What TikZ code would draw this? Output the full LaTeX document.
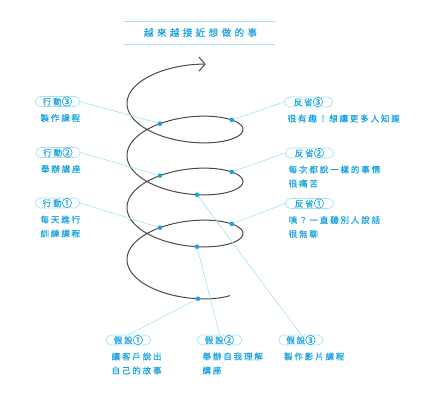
\documentclass[tikz,border=0pt]{standalone}
\usepackage{fontspec}
\newfontfamily\cjk[LetterSpace=22,FakeBold=0.5]{Noto Sans CJK TC}
\newfontfamily\cjktitle[LetterSpace=36,FakeBold=0.5]{Noto Sans CJK TC}
\newfontfamily\ringfont[FakeBold=0.5]{Noto Sans CJK TC}
\newcommand{\ringno}[1]{\raisebox{-0.6pt}{\ringfont\fontsize{10.5}{10}\selectfont #1}}
\usetikzlibrary{shapes.misc,positioning,arrows.meta}
\definecolor{ink}{HTML}{1AA3DF}
\definecolor{wire}{HTML}{A3E3F5}
\definecolor{coil}{HTML}{4A4A4A}
\tikzset{
  pill/.style={rounded rectangle, draw=wire, line width=0.7pt, text=ink,
    font=\cjk\fontsize{8.5}{10}\selectfont, minimum height=10pt,
    inner ysep=0pt, inner xsep=3.5pt},
  desc/.style={text=ink, font=\cjk\fontsize{8.5}{14}\selectfont, align=left, inner sep=0pt},
  link/.style={draw=wire, line width=0.6pt},
  dot/.style={circle, fill=ink, inner sep=0pt, minimum size=4.6pt},
}
\begin{document}
\begin{tikzpicture}[x=1pt,y=-1pt]
\useasboundingbox (0,0) rectangle (429,402);
% title
\draw[wire, line width=0.8pt] (124,21) -- (275,21);
\draw[wire, line width=0.8pt] (124,44) -- (275,44);
\node[text=ink, font=\cjktitle\fontsize{9.5}{11}\selectfont] (title) at (200.5,32.5) {越來越接近想做的事};
% spiral
\draw[coil, line width=1pt, -{Straight Barb[length=6pt,width=14pt]}]
  plot[domain=-2.46:20.79, samples=400, variable=\t]
  ({185-58*cos(\t r)}, {259.5-8.276*\t-25*sin(\t r)});
% points on the spiral
\node[dot] (h1) at (198.0,298.7) {};
\node[dot] (a1) at (160.0,227.6) {};
\node[dot] (r1) at (231.7,223.9) {};
\node[dot] (h2) at (197.0,246.7) {};
\node[dot] (a2) at (160.0,175.6) {};
\node[dot] (r2) at (231.7,171.9) {};
\node[dot] (h3) at (197.0,194.7) {};
\node[dot] (a3) at (160.0,123.6) {};
\node[dot] (r3) at (231.7,119.9) {};
% action
\node[pill] (act3) at (57.5,101.5) {行動\ringno{③}};
\node[pill] (act2) at (58,152.5) {行動\ringno{②}};
\node[pill] (act1) at (57.5,203) {行動\ringno{①}};
\node[desc, below right=7pt and 0pt of act3.south west] (act3t) {製作課程};
\node[desc, below right=7pt and 0pt of act2.south west] (act2t) {舉辦講座};
\node[desc, below right=7pt and 0pt of act1.south west] (act1t) {每天進行\\訓練課程};
% review
\node[pill, minimum width=55pt] (rev3) at (308.5,102) {反省\ringno{③}};
\node[pill, minimum width=55pt] (rev2) at (309.5,153) {反省\ringno{②}};
\node[pill, minimum width=55pt] (rev1) at (309.5,203.5) {反省\ringno{①}};
\node[desc, below right=7pt and -2pt of rev3.south west] (rev3t) {很有趣！想讓更多人知道};
\node[desc, below right=7pt and -2pt of rev2.south west] (rev2t) {每次都說一樣的事情\\很痛苦};
\node[desc, below right=7pt and -2pt of rev1.south west] (rev1t) {咦？一直聽別人說話\\很無聊};
% hypothesis
\node[pill] (hyp1) at (128.5,340) {假設\ringno{①}};
\node[pill] (hyp2) at (219.5,340) {假設\ringno{②}};
\node[pill] (hyp3) at (301,340) {假設\ringno{③}};
\node[desc, below right=7pt and 0pt of hyp1.south west] (hyp1t) {讓客戶說出\\自己的故事};
\node[desc, below right=7pt and 0pt of hyp2.south west] (hyp2t) {舉辦自我理解\\講座};
\node[desc, below right=7pt and 0pt of hyp3.south west] (hyp3t) {製作影片課程};
% links
\draw[link] (act3.east) -- (a3);
\draw[link] (act2.east) -- (a2);
\draw[link] (act1.east) -- (a1);
\draw[link] (rev3.west) -- (r3);
\draw[link] (rev2.west) -- (r2);
\draw[link] (rev1.west) -- (r1);
\draw[link] (hyp1.north) -- (h1);
\draw[link] (hyp2.north) -- (h2);
\draw[link] (hyp3.north) -- (h3);
\end{tikzpicture}
\end{document}
